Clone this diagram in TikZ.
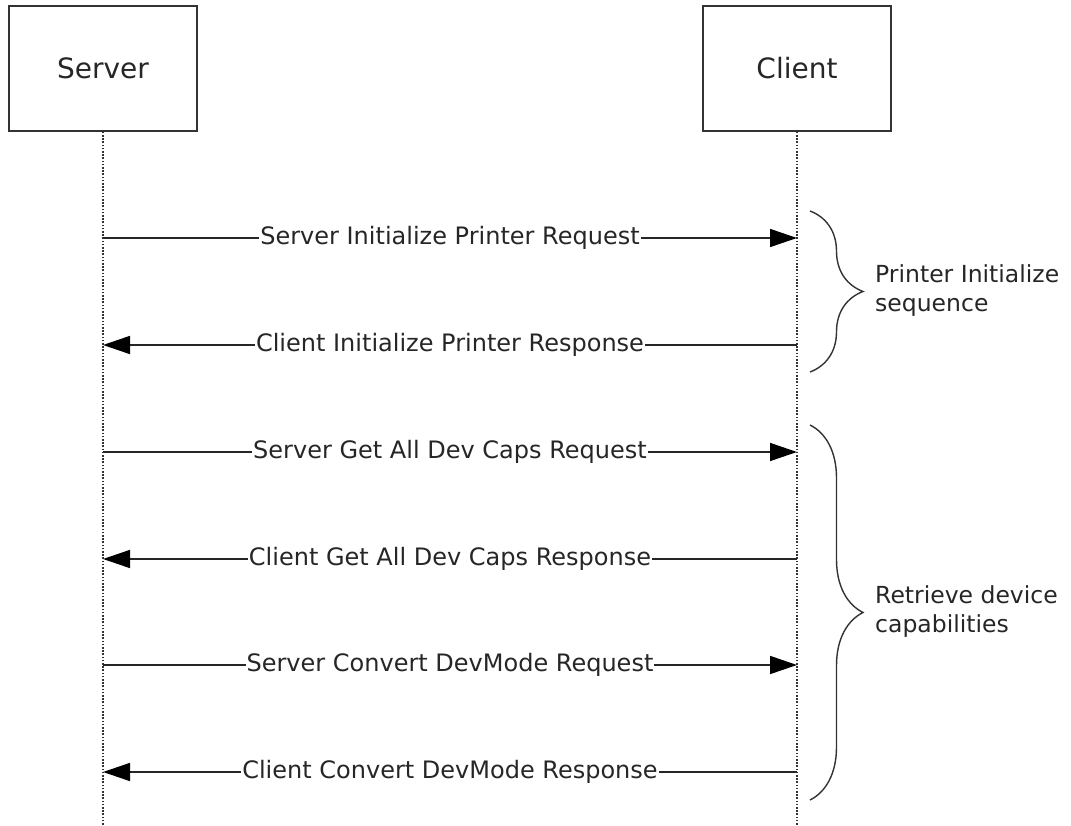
\documentclass[tikz,border=0pt]{standalone}
\usepackage{fontspec}
\setmainfont{DejaVu Sans}
\usetikzlibrary{arrows.meta}
\usetikzlibrary{decorations.pathreplacing}

\begin{document}
\begin{tikzpicture}[x=1pt, y=-1pt,
		actor/.style={draw=black!80, line width=1.6pt, minimum width=188pt, minimum height=125pt, font=\fontsize{28}{34}\selectfont, text=black!85},
		lifeline/.style={draw=black!80, line width=1.5pt, dash pattern=on 1.6pt off 1.6pt},
		msg/.style={draw=black!85, line width=1.6pt, -{Triangle[length=27pt, width=18pt, color=black]}},
		msglabel/.style={fill=white, inner sep=1pt, font=\fontsize{24}{29}\selectfont, text=black!85},
		grp/.style={draw=black!80, line width=1.4pt, decorate, decoration={brace, amplitude=53pt}},
		grplabel/.style={anchor=west, align=left, inner sep=0pt, font=\fontsize{23.5}{29}\selectfont, text=black!85}]
		\useasboundingbox (0,0) rectangle (1071,826);
		% actors
		\node[actor] (srv) at (103,68.5) {Server};
		\node[actor] (cli) at (797,68.5) {Client};
		\coordinate (srvend) at (103,826);
		\coordinate (cliend) at (797,826);
		\draw[lifeline] (srv.south) -- (srvend);
		\draw[lifeline] (cli.south) -- (cliend);
		% message end points
		\foreach \i/\y in {1/238,2/345,3/452,4/559,5/665,6/772}{
			\coordinate (s\i) at (103,\y);
			\coordinate (c\i) at (797,\y);
		}
		\draw[msg] (s1) -- node[msglabel]{Server Initialize Printer Request} (c1);
		\draw[msg] (c2) -- node[msglabel]{Client Initialize Printer Response} (s2);
		\draw[msg] (s3) -- node[msglabel]{Server Get All Dev Caps Request} (c3);
		\draw[msg] (c4) -- node[msglabel]{Client Get All Dev Caps Response} (s4);
		\draw[msg] (s5) -- node[msglabel]{Server Convert DevMode Request} (c5);
		\draw[msg] (c6) -- node[msglabel]{Client Convert DevMode Response} (s6);
		% groups
		\coordinate (b1top) at (810,211);
		\coordinate (b1bot) at (810,372);
		\coordinate (b2top) at (810,425);
		\coordinate (b2bot) at (810,800);
		\draw[grp] (b1top) -- (b1bot);
		\draw[grp] (b2top) -- (b2bot);
		\node[grplabel] (grp1) at (875,291) {Printer Initialize\\sequence};
		\node[grplabel] (grp2) at (875,612) {Retrieve device\\capabilities};
	\end{tikzpicture}
\end{document}
